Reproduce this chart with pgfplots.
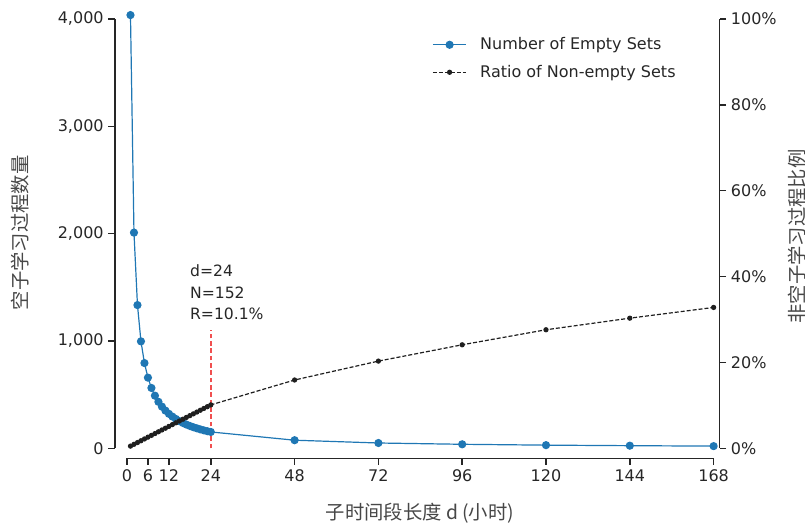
\documentclass[border=0pt]{standalone}
\usepackage{pgfplots}
\pgfplotsset{compat=1.18}
\usepackage{fontspec}
\setmainfont{DejaVu Sans}
\newfontfamily\cjk{Noto Sans CJK SC}
\definecolor{cblue}{HTML}{1F77B4}
\definecolor{spine}{HTML}{262626}
\definecolor{cred}{HTML}{F05050}

\pgfplotstableread{
d N
1 4036
2 2009
3 1334
4 996
5 794
6 658
7 562
8 490
9 433
10 388
11 351
12 321
13 295
14 273
15 253
16 236
17 221
18 208
19 196
20 186
21 176
22 167
23 159
24 152
48 75
72 49
96 37
120 29
144 24
168 20
}\emptytab

\pgfplotstableread{
d R
1 0.50
2 0.92
3 1.33
4 1.75
5 2.17
6 2.59
7 3.00
8 3.42
9 3.84
10 4.26
11 4.67
12 5.09
13 5.51
14 5.93
15 6.34
16 6.76
17 7.18
18 7.60
19 8.01
20 8.43
21 8.85
22 9.27
23 9.68
24 10.10
48 15.9
72 20.3
96 24.1
120 27.6
144 30.3
168 32.8
}\ratiotab

\begin{document}
\begin{tikzpicture}
\pgfplotsset{
  common/.style={
    scale only axis, width=453.4pt, height=329.5pt,
    xmin=-3.434, xmax=169.7,
    clip=false,
    tick align=outside,
    major tick length=5pt,
    every tick/.style={spine, line width=1.1pt},
    axis line style={draw=none},
    tick label style={font=\fontsize{12}{14}\selectfont, text=spine},
  }
}
\begin{axis}[common,
  axis x line*=bottom, axis y line*=left,
  ymin=-93.2, ymax=4000,
  xtick={0,6,12,24,48,72,96,120,144,168},
  xticklabels={0,6,12,24,48,72,96,120,144,168},
  ytick={0,1000,2000,3000,4000},
  yticklabels={0,{1,000},{2,000},{3,000},{4,000}},
  xlabel={\cjk 子时间段长度 d (小时)},
  ylabel={\cjk 空子学习过程数量},
  label style={font=\fontsize{14.5}{16}\selectfont, text=black!72},
  xlabel style={at={(axis description cs:0.5045,-0.126)}, anchor=center},
  ylabel style={at={(axis description cs:-0.157,0.513)}, anchor=center},
]
\draw[spine, line width=1.1pt] (axis cs:0,-93.2) -- (axis cs:168,-93.2);
\draw[spine, line width=1.1pt] (axis cs:-3.434,0) -- (axis cs:-3.434,4000);
\addplot[color=cblue, line width=0.9pt, mark=*, mark size=2.6pt, mark options={solid, fill=cblue, draw=cblue}] table[x=d, y=N] {\emptytab};
\addplot[cred, line width=1.1pt, dash pattern=on 3.5pt off 2pt] coordinates {(24,0) (24,1100)};
\node[anchor=north west, align=left, inner sep=0pt, font=\fontsize{11.7}{16}\selectfont, text=spine] at (axis cs:18,1710) {d=24\\N=152\\R=10.1\%};
\end{axis}
\begin{axis}[common,
  axis y line*=right, axis x line=none,
  ymin=-2.33, ymax=100,
  ytick={0,20,40,60,80,100},
  yticklabels={0\%,20\%,40\%,60\%,80\%,100\%},
  ylabel={\cjk 非空子学习过程比例},
  ylabel style={font=\fontsize{14.5}{16}\selectfont, text=black!72, at={(axis description cs:1.128,0.505)}, anchor=center},
  legend style={draw=none, fill=none, at={(axis description cs:0.52,0.97)}, anchor=north west,
    font=\fontsize{12}{14}\selectfont, text=spine, row sep=6pt, inner sep=2pt,
    /tikz/every odd column/.append style={column sep=8pt}},
  legend cell align=left,
  legend image code/.code={\draw[mark repeat=2,mark phase=2] plot coordinates {(0cm,0cm) (0.44cm,0cm) (0.88cm,0cm)};},
]
\draw[spine, line width=1.1pt] (axis cs:169.7,0) -- (axis cs:169.7,100);
\addlegendimage{color=cblue, line width=0.9pt, mark=*, mark size=2.6pt, mark options={solid, fill=cblue, draw=cblue}}
\addlegendentry{Number of Empty Sets}
\addplot[color=black!88, line width=0.9pt, dash pattern=on 3pt off 1.5pt, mark=*, mark size=1.5pt, mark options={solid}] table[x=d, y=R] {\ratiotab};
\addlegendentry{Ratio of Non-empty Sets}
\end{axis}
\pgfresetboundingbox
\path (-86.25pt,-48.5pt) rectangle (517.5pt,343.7pt);
\end{tikzpicture}
\end{document}
